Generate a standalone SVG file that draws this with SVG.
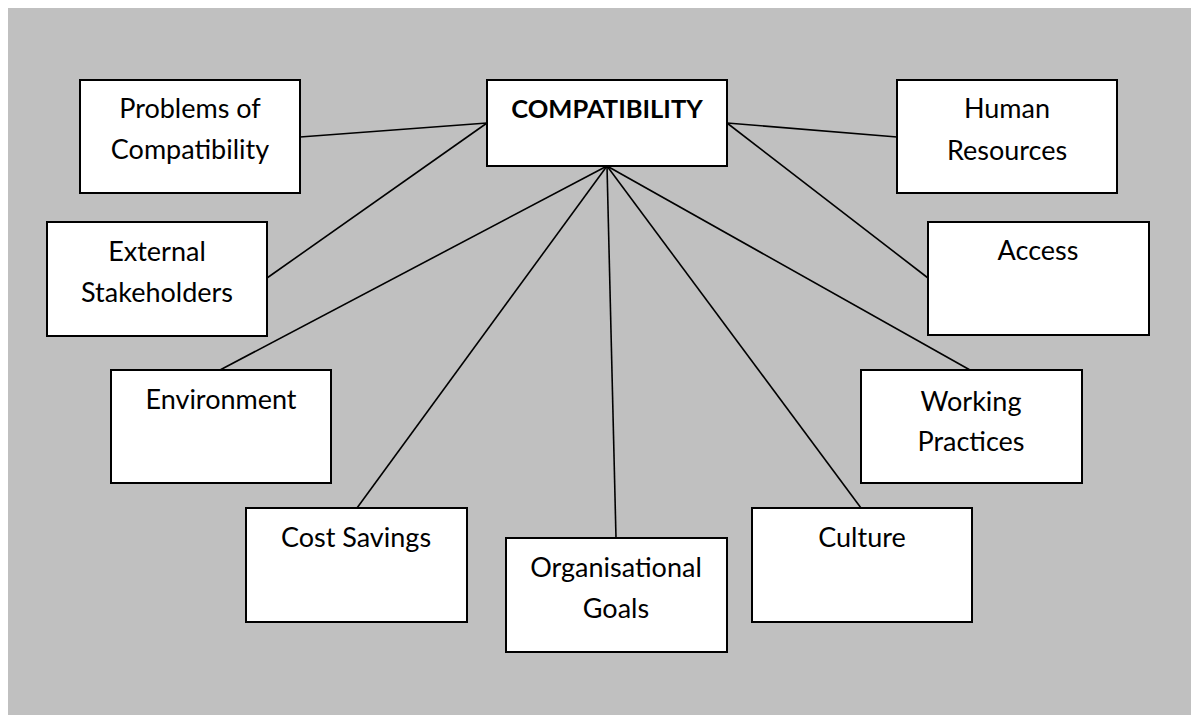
<svg xmlns="http://www.w3.org/2000/svg" width="1197" height="715" viewBox="0 0 1197 715">
<style>
.box{fill:#fff;stroke:#000;stroke-width:2}
.t{font-family:Lato,"Liberation Sans",sans-serif;font-size:27px;fill:#000;text-anchor:middle}
.b{font-weight:bold;font-size:25.5px}
.c line{stroke:#000;stroke-width:1.6}
</style>
<rect x="0" y="0" width="1197" height="715" fill="#fff"/>
<rect x="8" y="8" width="1183" height="707" fill="#c0c0c0"/>
<g class="c" id="connectors">
<line x1="300" y1="137" x2="487" y2="123"/>
<line x1="267" y1="278" x2="487" y2="123"/>
<line x1="220" y1="370" x2="607" y2="166"/>
<line x1="357" y1="508" x2="607" y2="166"/>
<line x1="616" y1="538" x2="607" y2="166"/>
<line x1="861" y1="508" x2="607" y2="166"/>
<line x1="970" y1="370" x2="607" y2="166"/>
<line x1="928" y1="278" x2="727" y2="123"/>
<line x1="897" y1="137" x2="727" y2="123"/>
</g>
<g id="compatibility"><rect class="box" x="487" y="80" width="240" height="86"/><text class="t b" x="607" y="118">COMPATIBILITY</text></g>
<g id="problems"><rect class="box" x="80" y="80" width="220" height="113"/><text class="t" x="190" y="118">Problems of</text><text class="t" x="190" y="159">Compatibility</text></g>
<g id="human"><rect class="box" x="897" y="80" width="220" height="113"/><text class="t" x="1007" y="118">Human</text><text class="t" x="1007" y="160">Resources</text></g>
<g id="external"><rect class="box" x="47" y="222" width="220" height="114"/><text class="t" x="157" y="261">External</text><text class="t" x="157" y="302">Stakeholders</text></g>
<g id="access"><rect class="box" x="928" y="222" width="221" height="113"/><text class="t" x="1038" y="260">Access</text></g>
<g id="environment"><rect class="box" x="111" y="370" width="220" height="113"/><text class="t" x="221" y="409">Environment</text></g>
<g id="working"><rect class="box" x="861" y="370" width="221" height="113"/><text class="t" x="971" y="411">Working</text><text class="t" x="971" y="451">Practices</text></g>
<g id="cost"><rect class="box" x="246" y="508" width="221" height="114"/><text class="t" x="356" y="547">Cost Savings</text></g>
<g id="culture"><rect class="box" x="752" y="508" width="220" height="114"/><text class="t" x="862" y="547">Culture</text></g>
<g id="goals"><rect class="box" x="506" y="538" width="221" height="114"/><text class="t" x="616" y="577">Organisational</text><text class="t" x="616" y="618">Goals</text></g>
</svg>
